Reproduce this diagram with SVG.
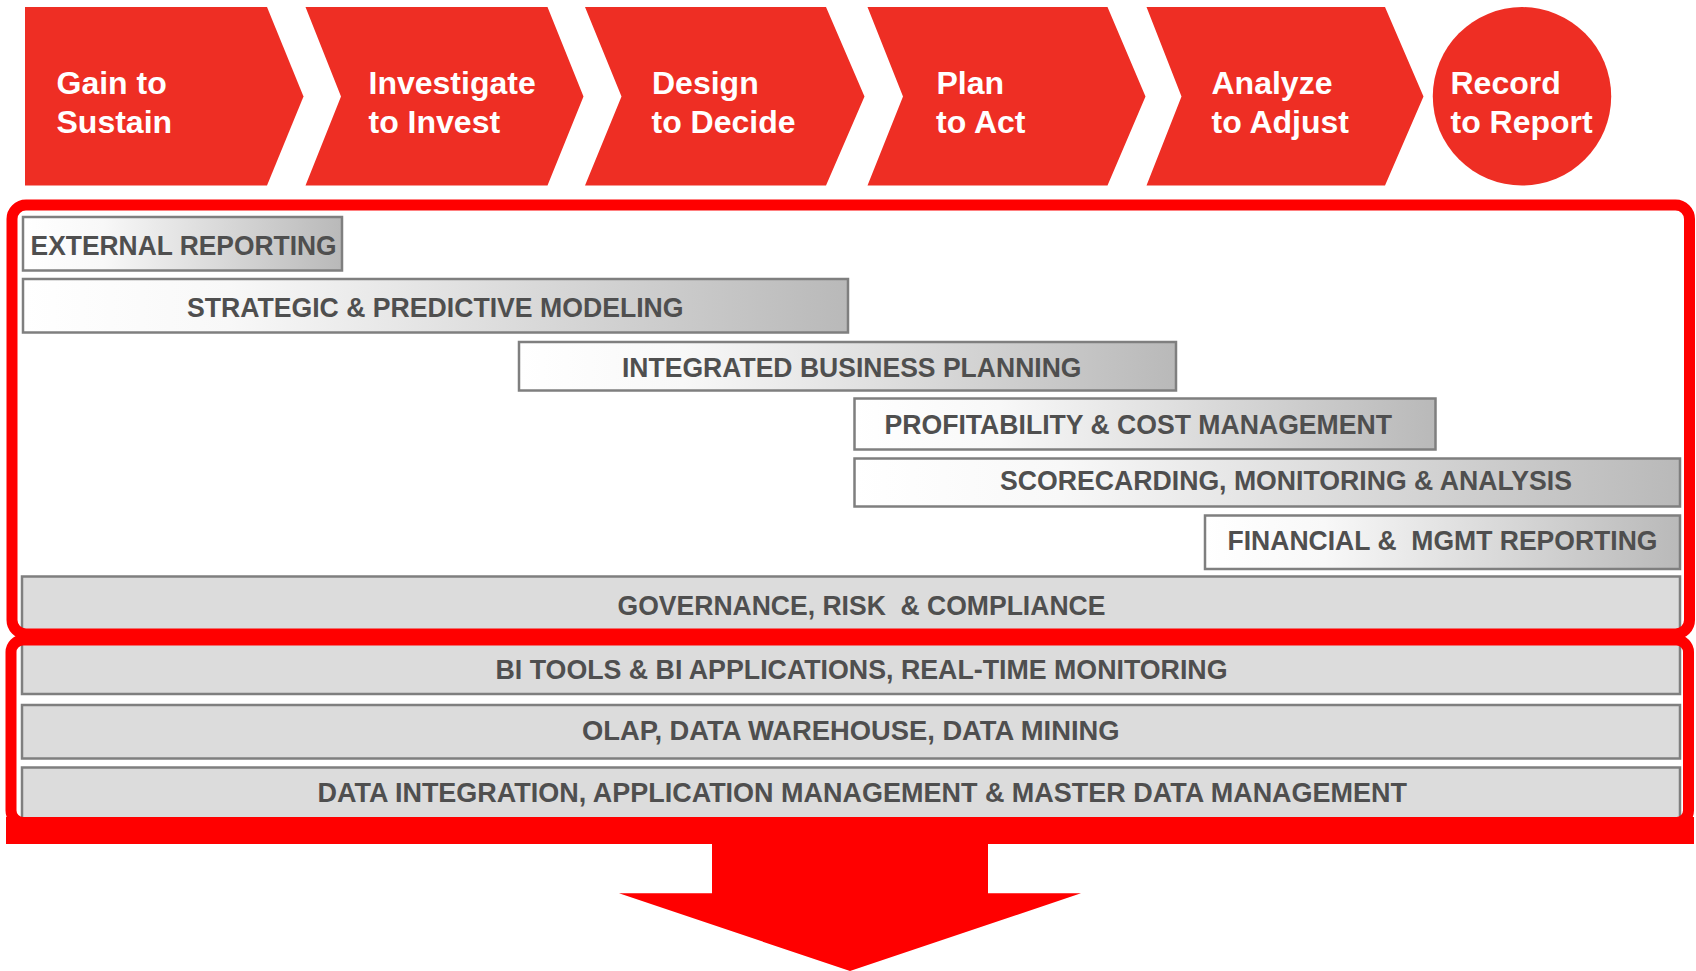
<svg xmlns="http://www.w3.org/2000/svg" width="1696" height="971" viewBox="0 0 1696 971">
<defs>
<linearGradient id="gr" x1="0" y1="0" x2="1" y2="0">
<stop offset="0" stop-color="#FFFFFF"/>
<stop offset="0.25" stop-color="#F8F8F8"/>
<stop offset="1" stop-color="#B9B9B9"/>
</linearGradient>
<style>
.chev{fill:#EE2E24}
.ct{font-family:"Liberation Sans",Arial,sans-serif;font-weight:bold;font-size:32px;fill:#FFFFFF}
.gbox{fill:url(#gr);stroke:#7F7F7F;stroke-width:2.5}
.sbox{fill:#DCDCDC;stroke:#7F7F7F;stroke-width:2.5}
.bt{font-family:"Liberation Sans",Arial,sans-serif;font-weight:bold;font-size:27px;fill:#4F4F4F}
.frame{fill:none;stroke:#FF0000;stroke-width:11}
.red{fill:#FF0000}
</style>
</defs>
<rect width="1696" height="971" fill="#FFFFFF"/>

<g id="stage-gain">
<polygon class="chev" points="25,7 267,7 303.5,96.5 267,185.5 25,185.5"/>
<text class="ct" x="56.5" y="94.3">Gain to</text>
<text class="ct" x="56.5" y="132.7">Sustain</text>
</g>
<g id="stage-investigate">
<polygon class="chev" points="305.5,7 547.5,7 583.5,96.5 547.5,185.5 305.5,185.5 341,96.5"/>
<text class="ct" x="368.5" y="94.3">Investigate</text>
<text class="ct" x="368.5" y="132.7">to Invest</text>
</g>
<g id="stage-design">
<polygon class="chev" points="585,7 826,7 864.5,96.5 826,185.5 585,185.5 621.5,96.5"/>
<text class="ct" x="652" y="94.3">Design</text>
<text class="ct" x="651.5" y="132.7">to Decide</text>
</g>
<g id="stage-plan">
<polygon class="chev" points="867.5,7 1107.5,7 1145.5,96.5 1107.5,185.5 867.5,185.5 903,96.5"/>
<text class="ct" x="936.5" y="94.3">Plan</text>
<text class="ct" x="936" y="132.7">to Act</text>
</g>
<g id="stage-analyze">
<polygon class="chev" points="1146.5,7 1385,7 1423.5,96.5 1385,185.5 1146.5,185.5 1181.5,96.5"/>
<text class="ct" x="1211.5" y="94.3">Analyze</text>
<text class="ct" x="1211.5" y="132.7">to Adjust</text>
</g>
<g id="stage-record">
<circle class="chev" cx="1522" cy="96.3" r="89.2"/>
<text class="ct" x="1450.5" y="94.3">Record</text>
<text class="ct" x="1450.5" y="132.7">to Report</text>
</g>

<g id="external-reporting">
<rect class="gbox" x="23" y="217" width="319" height="53.5"/>
<text class="bt" x="30.6" y="254.5" textLength="306" lengthAdjust="spacingAndGlyphs">EXTERNAL REPORTING</text>
</g>
<g id="strategic-modeling">
<rect class="gbox" x="23" y="279" width="825" height="53.5"/>
<text class="bt" x="187" y="317" textLength="496.5" lengthAdjust="spacingAndGlyphs">STRATEGIC &amp; PREDICTIVE MODELING</text>
</g>
<g id="integrated-planning">
<rect class="gbox" x="519" y="342" width="657" height="48.5"/>
<text class="bt" x="622" y="377.3" textLength="459.5" lengthAdjust="spacingAndGlyphs">INTEGRATED BUSINESS PLANNING</text>
</g>
<g id="profitability">
<rect class="gbox" x="854.5" y="398.5" width="581" height="51"/>
<text class="bt" x="884.5" y="434" textLength="507.5" lengthAdjust="spacingAndGlyphs">PROFITABILITY &amp; COST MANAGEMENT</text>
</g>
<g id="scorecarding">
<rect class="gbox" x="854.5" y="458.5" width="825.5" height="48"/>
<text class="bt" x="1000" y="490" textLength="572" lengthAdjust="spacingAndGlyphs">SCORECARDING, MONITORING &amp; ANALYSIS</text>
</g>
<g id="financial-reporting">
<rect class="gbox" x="1205" y="515.5" width="475" height="53.5"/>
<text class="bt" x="1227.5" y="550" textLength="430" lengthAdjust="spacingAndGlyphs" xml:space="preserve">FINANCIAL &amp;  MGMT REPORTING</text>
</g>
<g id="governance">
<rect class="sbox" x="22" y="576.5" width="1658" height="60"/>
<text class="bt" x="617.6" y="615" textLength="487.8" lengthAdjust="spacingAndGlyphs" xml:space="preserve">GOVERNANCE, RISK  &amp; COMPLIANCE</text>
</g>
<g id="bi-tools">
<rect class="sbox" x="22" y="640" width="1658" height="54"/>
<text class="bt" x="495.5" y="679" textLength="732" lengthAdjust="spacingAndGlyphs">BI TOOLS &amp; BI APPLICATIONS, REAL-TIME MONITORING</text>
</g>
<g id="olap">
<rect class="sbox" x="22" y="705" width="1658" height="53.5"/>
<text class="bt" x="582" y="740" textLength="537.5" lengthAdjust="spacingAndGlyphs">OLAP, DATA WAREHOUSE, DATA MINING</text>
</g>
<g id="data-integration">
<rect class="sbox" x="22" y="767.5" width="1658" height="60"/>
<text class="bt" x="317.5" y="801.5" textLength="1089.5" lengthAdjust="spacingAndGlyphs">DATA INTEGRATION, APPLICATION MANAGEMENT &amp; MASTER DATA MANAGEMENT</text>
</g>

<g id="connectors">
<rect class="frame" x="12" y="205" width="1677.5" height="429" rx="14"/>
<rect class="frame" x="11" y="640" width="1677.5" height="182.5" rx="12"/>
<rect class="red" x="6" y="817" width="1688" height="27"/>
<polygon class="red" points="712,843 988,843 988,893.3 1081,893.3 850,971 619,893.3 712,893.3"/>
</g>
</svg>
